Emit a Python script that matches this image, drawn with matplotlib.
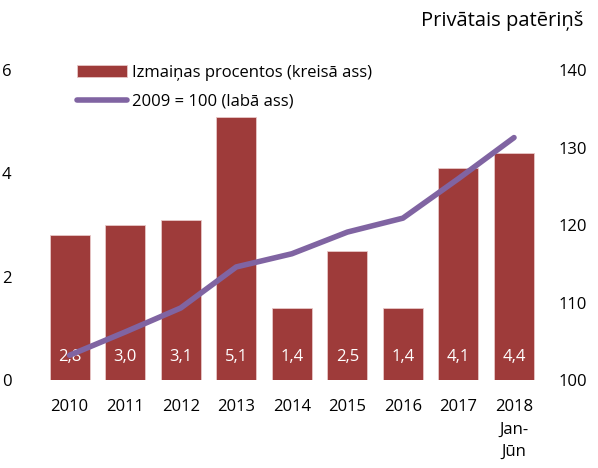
import matplotlib.pyplot as plt

plt.rcParams['font.family'] = ['Open Sans', 'DejaVu Sans']

years = ['2010', '2011', '2012', '2013', '2014', '2015', '2016', '2017', '2018\nJan-\nJūn']
change_pct = [2.8, 3.0, 3.1, 5.1, 1.4, 2.5, 1.4, 4.1, 4.4]
index_2009 = [103.2, 106.2, 109.3, 114.6, 116.3, 119.1, 120.9, 126.0, 131.3]
bar_labels = ['2,8', '3,0', '3,1', '5,1', '1,4', '2,5', '1,4', '4,1', '4,4']

bar_color = '#9E3B3A'
line_color = '#8064A2'

fig = plt.figure(figsize=(5.98, 4.68), dpi=100)
ax = fig.add_axes([0.070, 0.188, 0.836, 0.662])
ax2 = ax.twinx()

x = list(range(len(years)))
bars = ax.bar(x, change_pct, width=0.72, color=bar_color, edgecolor='#E8C8C8',
              linewidth=0.6)
for xi, lab in zip(x, bar_labels):
    ax.text(xi, 0.45, lab, color='white', ha='center', va='center', fontsize=12)

line, = ax2.plot(x, index_2009, color=line_color, linewidth=4,
                 solid_capstyle='round')

ax.set_xlim(-0.5, 8.5)
ax.set_ylim(0, 6)
ax.set_yticks([0, 2, 4, 6])
ax2.set_ylim(100, 140)
ax2.set_yticks([100, 110, 120, 130, 140])

ax.set_xticks(x)
ax.set_xticklabels(years, fontsize=12, linespacing=1.5)
ax.tick_params(axis='x', length=0, pad=14)
ax.tick_params(axis='y', length=0, labelsize=12, pad=22)
ax2.tick_params(axis='y', length=0, labelsize=12, pad=12)

for a in (ax, ax2):
    for s in a.spines.values():
        s.set_visible(False)

fig.text(0.975, 0.955, 'Privātais patēriņš', ha='right', va='center', fontsize=14.5)

# legend sits over the left part of the plot
ax.legend([bars, line], ['Izmaiņas procentos (kreisā ass)', '2009 = 100 (labā ass)'],
          loc='upper left', bbox_to_anchor=(0.04, 1.065), frameon=False,
          fontsize=12, handlelength=3.0, handletextpad=0.3, labelspacing=0.75)

fig.savefig('out.png', dpi=100)
